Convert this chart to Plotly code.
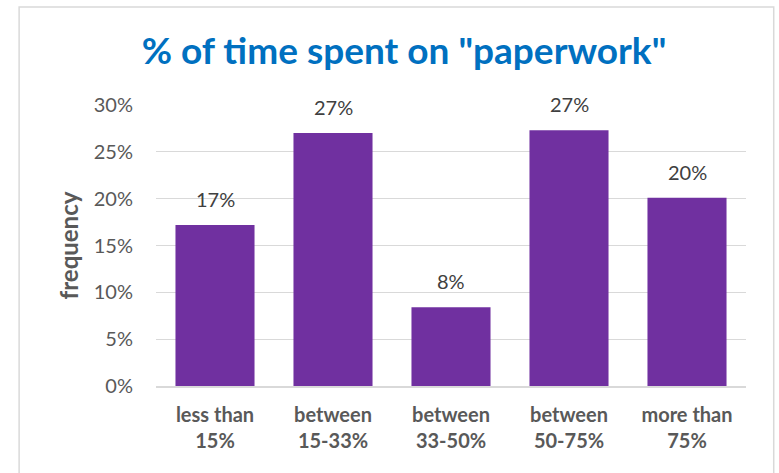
import plotly.graph_objects as go

categories = ["less than<br>15%", "between<br>15-33%", "between<br>33-50%", "between<br>50-75%", "more than<br>75%"]
values = [0.172, 0.270, 0.084, 0.273, 0.201]
tick_vals = [0, 0.05, 0.10, 0.15, 0.20, 0.25, 0.30]

FONT = "Lato"

fig = go.Figure(go.Bar(
    x=categories, y=values,
    marker=dict(color="#7030A0", line=dict(width=0)),
))

for c, v in zip(categories, values):
    fig.add_annotation(x=c, y=v, text=f"{v:.0%}", showarrow=False,
                       yanchor="middle", yshift=26,
                       font=dict(family=FONT, size=20, color="#404040"))

fig.update_layout(
    width=779, height=473,
    margin=dict(l=156, r=33, t=105, b=87),
    paper_bgcolor="white", plot_bgcolor="white",
    bargap=0.33,
    showlegend=False,
    title=dict(text='<b>% of time spent on "paperwork"</b>',
               font=dict(family=FONT, size=37, color="#0070C0"),
               x=404/779, xanchor="center", xref="container",
               y=1 - 51/473, yanchor="middle", yref="container"),
    xaxis=dict(tickfont=dict(family=FONT, size=20, color="#595959"),
               tickprefix="<b>", ticksuffix="</b>",
               showline=True, linecolor="#D9D9D9", linewidth=1.5,
               ticks="", ticklabelstandoff=10),
    yaxis=dict(range=[0, 0.3], tickvals=tick_vals, tickformat=".0%",
               tickfont=dict(family=FONT, size=20, color="#595959"),
               gridcolor="#D9D9D9", gridwidth=1.2, zeroline=False,
               ticks="", ticklabelstandoff=22,
               title=dict(text="<b>frequency</b>", font=dict(family=FONT, size=24, color="#595959"),
                          standoff=8)),
    shapes=[dict(type="rect", xref="paper", yref="paper",
                 x0=-0.232, x1=1.047, y0=-0.33, y1=1.349,
                 line=dict(color="#D9D9D9", width=1.5), fillcolor="rgba(0,0,0,0)", layer="below")],
)

fig.write_html("out.html", config={"displayModeBar": False},
               post_script="document.body.style.margin='0';document.body.style.overflow='hidden';")
